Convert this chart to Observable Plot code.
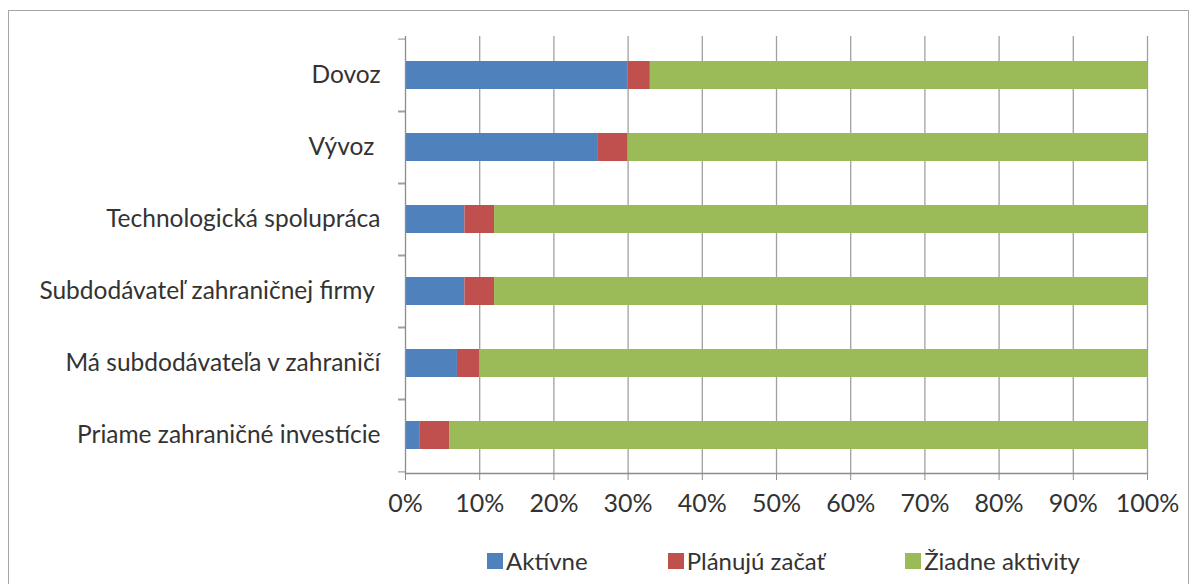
<!DOCTYPE html>
<html>
<head>
<meta charset="utf-8">
<script src="https://cdn.jsdelivr.net/npm/d3@7"></script>
<script src="https://cdn.jsdelivr.net/npm/@observablehq/plot@0.6"></script>
<style>
  html, body { margin: 0; padding: 0; background: #fff; }
  body { width: 1195px; height: 584px; position: relative; overflow: hidden; font-family: Lato, "Open Sans", sans-serif; }
  #frame { position: absolute; left: 8px; top: 10px; width: 1181px; height: 600px; border: 1px solid #a6a6a6; box-sizing: border-box; pointer-events: none; }
  #chart { position: absolute; left: 0; top: 0; }
  #legend { position: absolute; left: 186px; top: 546px; width: 1195px; display: flex; justify-content: center; gap: 80px; font-size: 24px; line-height: 30px; color: #333; }
  #legend .item { display: flex; align-items: center; }
  #legend .sw { width: 16px; height: 16px; margin-right: 3px; display: inline-block; }
</style>
</head>
<body>
<div id="chart"></div>
<div id="legend"></div>
<div id="frame"></div>
<script>
const categories = [
  "Dovoz",
  "Vývoz ",
  "Technologická spolupráca",
  "Subdodávateľ zahraničnej firmy ",
  "Má subdodávateľa v zahraničí",
  "Priame zahraničné investície"
];
const series = ["Aktívne", "Plánujú začať", "Žiadne aktivity"];
const aktivne = [30, 26, 8, 8, 7, 2];
const planuju = [3, 4, 4, 4, 3, 4];
const ziadne = [67, 70, 88, 88, 90, 94];
const colors = ["#4f81bd", "#c0504d", "#9bbb59"];
const xTicks = [0, 10, 20, 30, 40, 50, 60, 70, 80, 90, 100];
const xTickLabels = ["0%", "10%", "20%", "30%", "40%", "50%", "60%", "70%", "80%", "90%", "100%"];

const valuesBySeries = [aktivne, planuju, ziadne];
const rows = [];
categories.forEach((c, i) => {
  series.forEach((s, j) => rows.push({cat: c, series: s, value: valuesBySeries[j][i]}));
});

const W = 1195, H = 530;
const mTop = 36, mBottom = 57, mLeft = 405, mRight = 48;
const step = (H - mTop - mBottom) / categories.length;

const chart = Plot.plot({
  width: W,
  height: H,
  marginTop: mTop,
  marginBottom: mBottom,
  marginLeft: mLeft,
  marginRight: mRight,
  style: {fontFamily: "Lato, 'Open Sans', sans-serif", color: "#333", background: "transparent"},
  x: {domain: [0, 100], label: null},
  y: {domain: categories, paddingInner: 0.615, paddingOuter: 0.3075, label: null},
  color: {domain: series, range: colors},
  marks: [
    Plot.gridX(xTicks.slice(1), {stroke: "#a0a0a0", strokeOpacity: 1, strokeWidth: 1.3}),
    Plot.barX(rows, Plot.stackX({y: "cat", x: "value", fill: "series", inset: 0})),
    Plot.ruleX([0], {stroke: "#8c8c8c", strokeWidth: 1.3}),
    Plot.frame({anchor: "bottom", stroke: "#8c8c8c", strokeWidth: 1.3}),
    Plot.axisY({tickSize: 7, text: null, label: null, dy: -step / 2, stroke: "#8c8c8c"}),
    Plot.axisY({tickSize: 7, text: null, label: null, dy: step / 2, stroke: "#8c8c8c"}),
    Plot.axisY({tickSize: 0, tickPadding: 25, fontSize: 24.5, fill: "#333", label: null,
      tickFormat: d => d.replace(/ $/, "\u00a0")}),
    Plot.axisX(xTicks, {tickSize: 7, tickPadding: 14, fontSize: 25, fill: "#333", stroke: "#8c8c8c",
      tickFormat: d => xTickLabels[xTicks.indexOf(d)], label: null})
  ]
});
document.getElementById("chart").appendChild(chart);

const legend = document.getElementById("legend");
series.forEach((s, i) => {
  const item = document.createElement("div");
  item.className = "item";
  const sw = document.createElement("span");
  sw.className = "sw";
  sw.style.background = colors[i];
  const t = document.createElement("span");
  t.textContent = s;
  item.appendChild(sw);
  item.appendChild(t);
  legend.appendChild(item);
});
</script>
</body>
</html>
